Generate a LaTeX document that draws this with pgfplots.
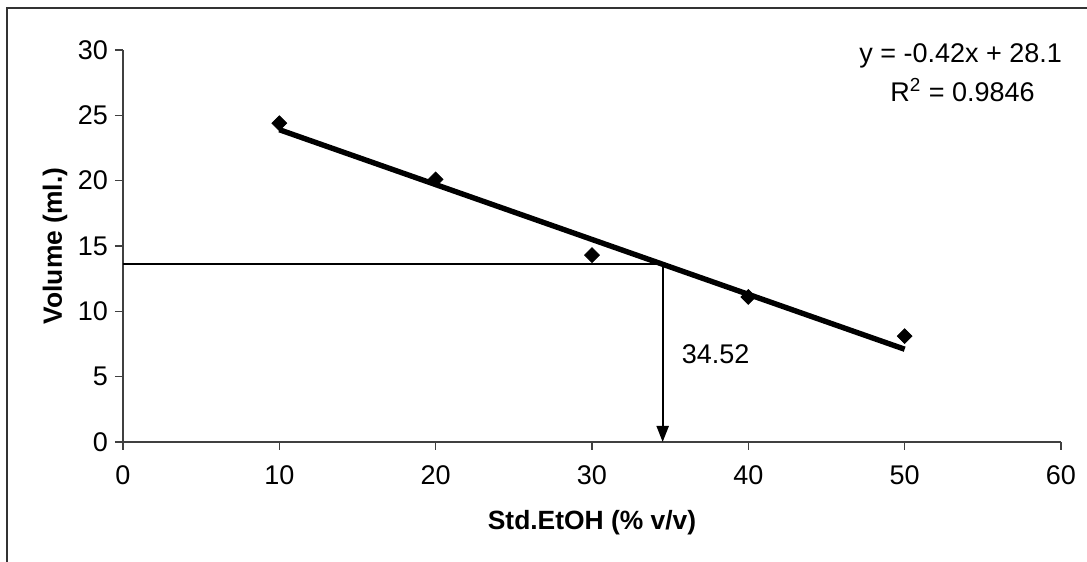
\documentclass[border=0pt]{standalone}
\usepackage{fontspec}
\setmainfont{Liberation Sans}
\usepackage{pgfplots}
\pgfplotsset{compat=1.18}
\usetikzlibrary{arrows.meta}
\begin{document}
\begin{tikzpicture}
\useasboundingbox (0,0) rectangle (543.5bp,281bp);
\draw[line width=0.6bp, black!80] (3.5bp,0) -- (3.5bp,277bp) -- (543.5bp,277bp);
\begin{axis}[
  at={(61.5bp,60bp)}, anchor=south west,
  scale only axis, width=469bp, height=196bp,
  xmin=0, xmax=60, ymin=0, ymax=30,
  axis x line=bottom, axis y line=left,
  axis line style={-, line width=0.7bp, black!75},
  xtick={0,10,...,60}, ytick={0,5,...,30},
  tick align=outside, major tick length=4bp,
  tick style={line width=0.6bp, black!75},
  /pgf/number format/assume math mode=true,
  tick label style={font=\fontsize{13.5bp}{15bp}\selectfont},
  yticklabel style={xshift=0bp},
  xticklabel style={yshift=-4.5bp},
  xlabel={\textbf{Std.EtOH (\% v/v)}},
  ylabel={\textbf{Volume (ml.)}},
  label style={font=\fontsize{13.2bp}{15bp}\selectfont},
  xlabel style={at={(axis description cs:0.5,-0.2066)}, anchor=center},
  ylabel style={at={(axis description cs:-0.0725,0.5)}, anchor=center},
  clip=false,
]
% fitted trendline y = -0.42x + 28.1
\addplot[line width=2.7bp, black] coordinates {(10,23.9) (50,7.1)};
% data points
\addplot[only marks, mark=square*, mark size=2.6bp, mark options={rotate=45, fill=black}, black]
  coordinates {(10,24.4) (20,20.1) (30,14.3) (40,11.1) (50,8.1)};
% reading lines
\addplot[line width=1bp, black] coordinates {(0,13.6) (34.52,13.6)};
\addplot[line width=1bp, black, -{Triangle[length=8bp,width=6bp]}] coordinates {(34.52,13.6) (34.52,0)};
\node[anchor=west, font=\fontsize{13.5bp}{15bp}\selectfont] at (axis cs:35.3,6.7) {34.52};
\node[anchor=center, font=\fontsize{13.5bp}{15bp}\selectfont] at (axis description cs:0.893,0.985) {y = -0.42x + 28.1};
\node[anchor=center, font=\fontsize{13.5bp}{15bp}\selectfont] at (axis description cs:0.895,0.898) {R\textsuperscript{2} = 0.9846};
\end{axis}
\end{tikzpicture}
\end{document}
